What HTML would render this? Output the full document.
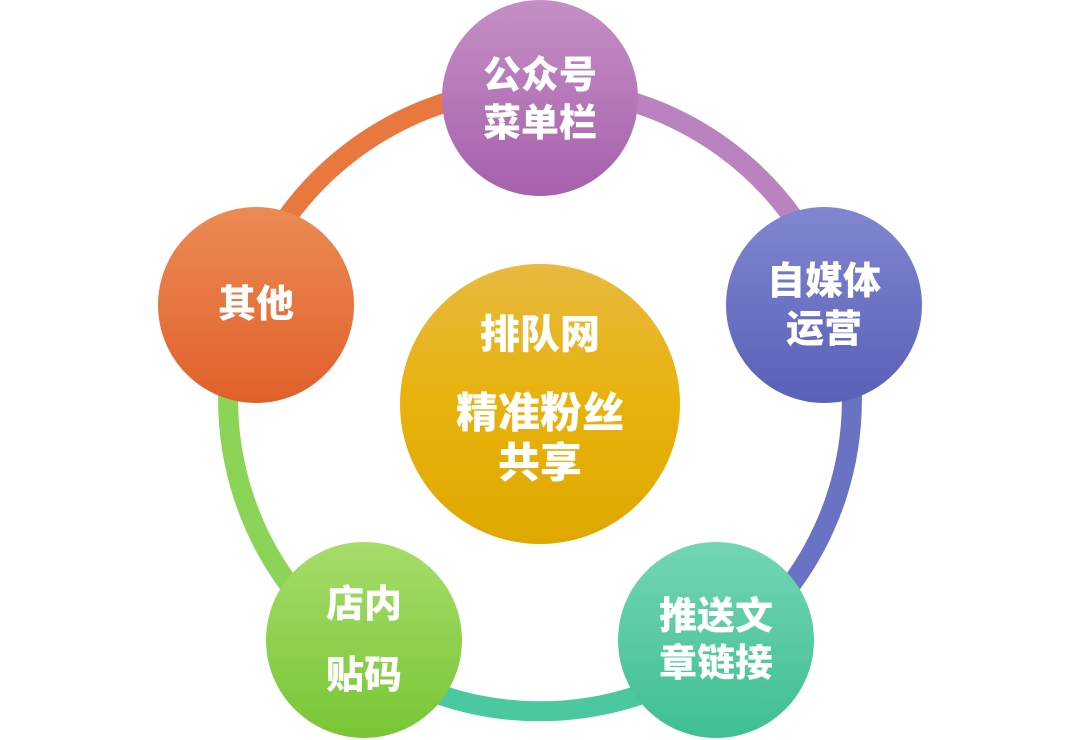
<!DOCTYPE html>
<html><head><meta charset="utf-8"><style>
html,body{margin:0;padding:0;background:#fff;}
svg{display:block}
text{font-family:"Liberation Sans","Noto Sans CJK SC",sans-serif;font-weight:900;fill:#fff;text-anchor:middle;dominant-baseline:central}
</style></head><body>
<svg width="1080" height="740" viewBox="0 0 1080 740">
<defs>
<linearGradient id="gTop" x1="0" y1="0" x2="0" y2="1"><stop offset="0" stop-color="#c48fc4"/><stop offset="1" stop-color="#a760ad"/></linearGradient>
<linearGradient id="gR" x1="0" y1="0" x2="0" y2="1"><stop offset="0" stop-color="#8186d0"/><stop offset="1" stop-color="#5860b8"/></linearGradient>
<linearGradient id="gBR" x1="0" y1="0" x2="0" y2="1"><stop offset="0" stop-color="#74d5b5"/><stop offset="1" stop-color="#3ebf91"/></linearGradient>
<linearGradient id="gBL" x1="0" y1="0" x2="0" y2="1"><stop offset="0" stop-color="#a6dc6a"/><stop offset="1" stop-color="#78c634"/></linearGradient>
<linearGradient id="gL" x1="0" y1="0" x2="0" y2="1"><stop offset="0" stop-color="#ec8a55"/><stop offset="1" stop-color="#e0602a"/></linearGradient>
<linearGradient id="gC" x1="0" y1="0" x2="0" y2="1"><stop offset="0" stop-color="#e8b93e"/><stop offset="0.5" stop-color="#e8b20c"/><stop offset="1" stop-color="#dfa800"/></linearGradient>
</defs>
<g fill="none" stroke-width="20">
<path d="M540 88 A312 312 0 0 1 837 304" stroke="#bb82c0"/>
<path d="M837 304 A312 312 0 0 1 723 652" stroke="#6a72c4"/>
<path d="M723 652 A312 312 0 0 1 357 652" stroke="#4cc8a0"/>
<path d="M357 652 A312 312 0 0 1 243 304" stroke="#8cd458"/>
<path d="M243 304 A312 312 0 0 1 540 88" stroke="#e8783e"/>
</g>
<circle cx="540" cy="404" r="140" fill="url(#gC)"/>
<text x="540" y="335" font-size="40">排队网</text>
<text x="540" y="413" font-size="42">精准粉丝</text>
<text x="540" y="463" font-size="42">共享</text>

<circle cx="540" cy="98" r="98" fill="url(#gTop)"/>
<text x="540" y="76" font-size="38">公众号</text>
<text x="540" y="124" font-size="38">菜单栏</text>

<circle cx="824" cy="305" r="98" fill="url(#gR)"/>
<text x="824" y="282" font-size="38">自媒体</text>
<text x="824" y="330" font-size="38">运营</text>

<circle cx="716" cy="640" r="98" fill="url(#gBR)"/>
<text x="716" y="617" font-size="38">推送文</text>
<text x="716" y="664" font-size="38">章链接</text>

<circle cx="364" cy="640" r="98" fill="url(#gBL)"/>
<text x="364" y="605" font-size="38">店内</text>
<text x="364" y="676" font-size="38">贴码</text>

<circle cx="256" cy="305" r="98" fill="url(#gL)"/>
<text x="256" y="305" font-size="38">其他</text>
</svg>
</body></html>
